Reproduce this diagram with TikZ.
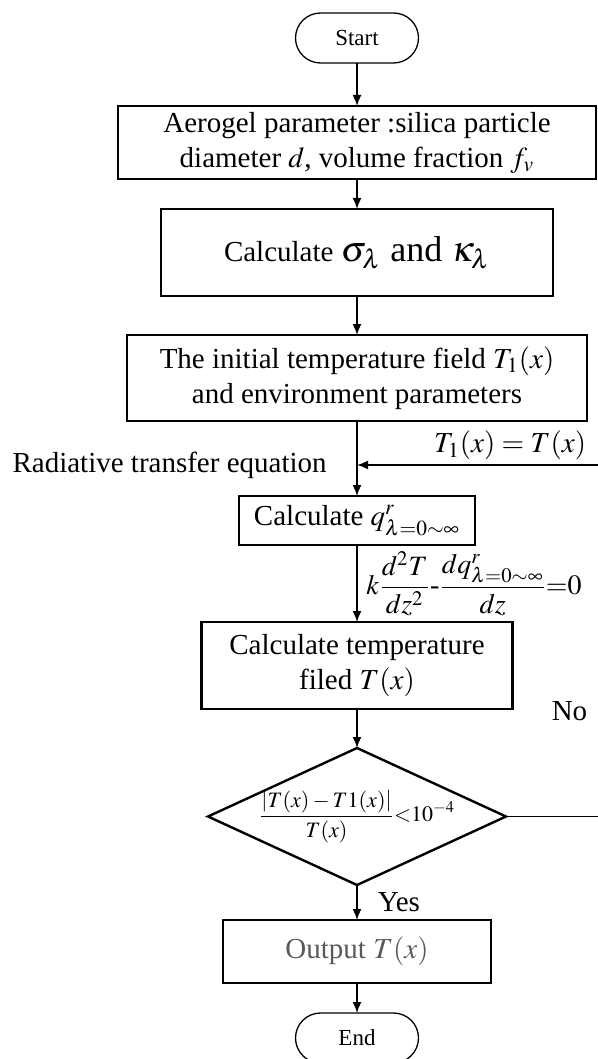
\documentclass[tikz,border=0pt]{standalone}
\usepackage{amsmath}
\usepackage{mathptmx}
\usepackage{fontspec}
\setmainfont{Liberation Serif}
\usetikzlibrary{arrows.meta,positioning,calc,shapes.geometric}

\begin{document}
\begin{tikzpicture}[
    x=0.5pt, y=-0.5pt,
    box/.style={draw, line width=1.2pt, align=center, inner sep=0pt, outer sep=0pt, font=\fontsize{14.5}{17.5}\selectfont},
    term/.style={draw, line width=0.65pt, rounded corners=12.5pt, minimum width=61.5pt, minimum height=25pt, inner sep=0pt, outer sep=0pt, font=\fontsize{11.5}{13}\selectfont},
    decision/.style={draw, diamond, line width=1.2pt, minimum width=149pt, minimum height=68.5pt, inner sep=0pt, outer sep=0pt},
    lbl/.style={inner sep=1pt, font=\fontsize{14.5}{17.5}\selectfont},
    arr/.style={-{Latex[length=5.5pt,width=4.5pt]}, line width=0.8pt}
]
\useasboundingbox (0,0) rectangle (598,1059);

\node[term] (start) at (357,38) {Start};
\node[box, minimum width=239pt, minimum height=36.5pt, below=21.5pt of start] (aero)
    {Aerogel parameter :silica particle\\diameter $d$, volume fraction $f_v$};
\node[box, minimum width=196pt, minimum height=43.5pt, below=15pt of aero] (coef)
    {Calculate {\fontsize{18}{22}\selectfont$\sigma_\lambda$ and $\kappa_\lambda$}};
\node[box, minimum width=230pt, minimum height=43pt, below=19.5pt of coef] (init)
    {The initial temperature field $T_1(x)$\\and environment parameters};
\node[box, minimum width=118pt, minimum height=24.5pt, below=37.5pt of init] (rad)
    {Calculate $q^{r}_{\lambda=0\sim\infty}$};
\node[box, minimum width=155.5pt, minimum height=43.5pt, below=38.5pt of rad] (temp)
    {Calculate temperature\\filed $T(x)$};
\node[decision, below=19.5pt of temp, label={[font=\fontsize{11}{13}\selectfont]center:$\displaystyle\frac{\left|T(x)-T1(x)\right|}{T(x)}{<}10^{-4}$}] (check) {};
\node[box, minimum width=134pt, minimum height=31.5pt, below=17.5pt of check, text=black!65] (out)
    {Output $T(x)$};
\node[term, below=15pt of out] (stop) {End};

% loop back
\coordinate (looptop) at (600,465);
\coordinate (join) at (init.south |- looptop);

\draw[arr] (start) -- (aero);
\draw[arr] (aero) -- (coef);
\draw[arr] (coef) -- (init);
\draw[arr] (init) -- (rad);
\draw[arr] (rad) -- (temp) node[midway, right=1pt, font=\fontsize{14}{16}\selectfont]
    {$k\dfrac{d^2T}{dz^2}\text{-}\dfrac{dq^{r}_{\lambda=0\sim\infty}}{dz}{=}0$};
\draw[arr] (temp) -- (check);
\draw[arr] (check) -- (out) node[midway, right=9pt, lbl] {Yes};
\draw[arr] (out) -- (stop);
\draw[arr] (check.east) -| (looptop) node[pos=0.65, left=5pt, lbl] {No}
    -- (join) node[pos=0.37, above=1pt, lbl] {$T_1(x)=T(x)$};
\node[lbl, left=14pt of join] {Radiative transfer equation};
\end{tikzpicture}
\end{document}
